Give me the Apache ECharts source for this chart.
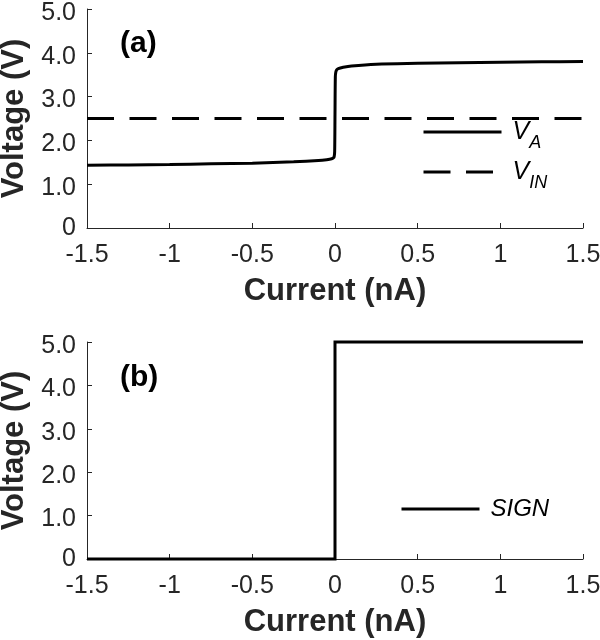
<!DOCTYPE html>
<html><head><meta charset="utf-8">
<script src="https://cdn.jsdelivr.net/npm/echarts@6/dist/echarts.min.js"></script>
<style>html,body{margin:0;padding:0;background:#fff}#c{width:600px;height:640px}</style>
</head><body><div id="c"></div>
<script>
// ---- data ----
const currentA = [-1.5, -1.25, -1.0, -0.75, -0.5, -0.25, -0.1, -0.05, -0.02, -0.01, -0.005, -0.002, 0, 0.002, 0.005, 0.01, 0.02, 0.05, 0.1, 0.25, 0.5, 0.75, 1.0, 1.25, 1.5];
const vA       = [1.43, 1.44, 1.45, 1.465, 1.48, 1.51, 1.54, 1.56, 1.58, 1.6, 1.63, 1.75, 2.6, 3.45, 3.56, 3.61, 3.64, 3.67, 3.70, 3.74, 3.76, 3.775, 3.785, 3.793, 3.80];
const currentIn = [-1.5, 1.5];
const vIn       = [2.5, 2.5];
const currentSign = [-1.5, 0, 0, 1.5];
const vSign       = [0, 0, 5, 5];
const xTickLabels = ['-1.5', '-1', '-0.5', '0', '0.5', '1', '1.5'];
const yTickLabels = ['0', '1.0', '2.0', '3.0', '4.0', '5.0'];

const FONT = 'Liberation Sans';
const AX = '#262626';
const DASH = [27, 15.5];

const pairs = (xs, ys) => xs.map((x, i) => [x, ys[i]]);

function xAxis(gi) {
  return {
    type: 'value', gridIndex: gi, min: -1.5, max: 1.5, interval: 0.5,
    name: 'Current (nA)', nameLocation: 'middle', nameGap: 48,
    nameTextStyle: { fontFamily: FONT, fontSize: 31, fontWeight: 'bold', color: AX },
    axisLine: { show: true, onZero: false, lineStyle: { color: AX, width: 1 } },
    axisTick: { show: true, inside: true, length: 5, lineStyle: { color: AX } },
    axisLabel: {
      margin: 15, fontFamily: FONT, fontSize: 25, color: AX,
      formatter: v => xTickLabels[Math.round((v + 1.5) / 0.5)]
    },
    splitLine: { show: false }
  };
}
function yAxis(gi) {
  return {
    type: 'value', gridIndex: gi, min: 0, max: 5, interval: 1,
    name: 'Voltage (V)', nameLocation: 'middle', nameGap: 56,
    nameTextStyle: { fontFamily: FONT, fontSize: 31, fontWeight: 'bold', color: AX },
    axisLine: { show: true, onZero: false, lineStyle: { color: AX, width: 1 } },
    axisTick: { show: true, inside: true, length: 5, lineStyle: { color: AX } },
    axisLabel: {
      margin: 11, fontFamily: FONT, fontSize: 25, color: AX, padding: [8, 0, 0, 0],
      formatter: v => { const i = Math.round(v); return i === 0 ? '{z|' + yTickLabels[0] + '}' : yTickLabels[i]; },
      rich: { z: { fontFamily: FONT, fontSize: 25, color: AX, padding: [0, 0, 8, 0] } }
    },
    splitLine: { show: false }
  };
}

const legendText = {
  fontFamily: FONT, fontSize: 24, fontStyle: 'italic', color: '#000',
  rich: {
    v: { fontFamily: FONT, fontSize: 25, fontStyle: 'italic', color: '#000' },
    s: { fontFamily: FONT, fontSize: 18, fontStyle: 'italic', color: '#000', padding: [22, 0, 0, 0] }
  }
};
const legendNames = { 'VA': '{v|V}{s|A}', 'VIN': '{v|V}{s|IN}', 'SIGN': 'SIGN' };
function legend(name, left, centerY, dashed) {
  return {
    data: [name], orient: 'vertical', left: left, top: centerY - 20,
    itemWidth: 78, itemHeight: 40, padding: 0, itemGap: 0,
    selectedMode: false,
    itemStyle: { color: 'rgba(0,0,0,0)', borderColor: 'rgba(0,0,0,0)', borderWidth: 0, opacity: 0 },
    lineStyle: { color: '#000', width: 3, type: dashed ? DASH : 'solid', cap: 'butt', opacity: 1 },
    textStyle: Object.assign({}, legendText, { padding: [0, 0, 0, 6] }),
    formatter: n => legendNames[n]
  };
}

const chart = echarts.init(document.getElementById('c'), null, { renderer: 'canvas' });
chart.setOption({
  animation: false,
  backgroundColor: '#fff',
  color: ['#000'],
  grid: [
    { left: 87, top: 9, width: 496, height: 219, containLabel: false, outerBoundsMode: 'none' },
    { left: 87, top: 342, width: 496, height: 217, containLabel: false, outerBoundsMode: 'none' }
  ],
  xAxis: [xAxis(0), xAxis(1)],
  yAxis: [yAxis(0), yAxis(1)],
  legend: [legend('VA', 422, 136, false), legend('VIN', 422, 176, true), legend('SIGN', 400, 513, false)],
  graphic: [
    { type: 'text', left: 120, top: 29, style: { text: '(a)', fontFamily: FONT, fontSize: 30, fontWeight: 'bold', fill: '#000' } },
    { type: 'text', left: 120, top: 363, style: { text: '(b)', fontFamily: FONT, fontSize: 30, fontWeight: 'bold', fill: '#000' } }
  ],
  series: [
    { name: 'VA', type: 'line', xAxisIndex: 0, yAxisIndex: 0, data: pairs(currentA, vA),
      showSymbol: false, symbol: 'none', smooth: 0.3, clip: false,
      itemStyle: { color: '#000' },
      lineStyle: { color: '#000', width: 3 } },
    { name: 'VIN', type: 'line', xAxisIndex: 0, yAxisIndex: 0, data: pairs(currentIn, vIn),
      showSymbol: false, symbol: 'none', clip: false,
      itemStyle: { color: '#000' },
      lineStyle: { color: '#000', width: 3, type: DASH, cap: 'butt' } },
    { name: 'SIGN', type: 'line', xAxisIndex: 1, yAxisIndex: 1, data: pairs(currentSign, vSign),
      showSymbol: false, symbol: 'none', clip: false,
      itemStyle: { color: '#000' },
      lineStyle: { color: '#000', width: 3, join: 'miter' } }
  ]
});
</script></body></html>
